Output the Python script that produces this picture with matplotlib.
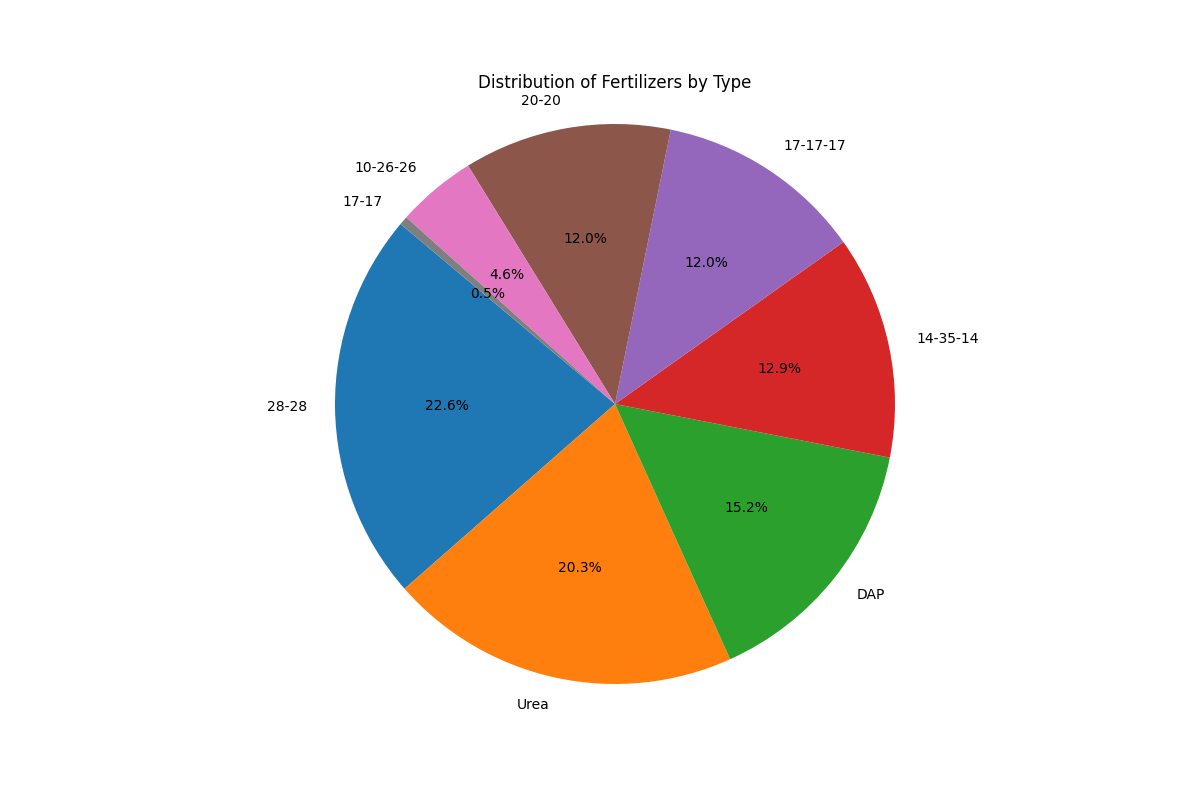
import matplotlib
matplotlib.use("Agg")
import matplotlib.pyplot as plt

labels = ["28-28", "Urea", "DAP", "14-35-14", "17-17-17", "20-20", "10-26-26", "17-17"]
values = [22.6, 20.3, 15.2, 12.9, 12.0, 12.0, 4.6, 0.5]

fig, ax = plt.subplots(figsize=(12, 8), dpi=100)
ax.pie(values, labels=labels, autopct="%1.1f%%", startangle=140)
ax.axis("equal")
ax.set_title("Distribution of Fertilizers by Type")
fig.savefig("out.png")
